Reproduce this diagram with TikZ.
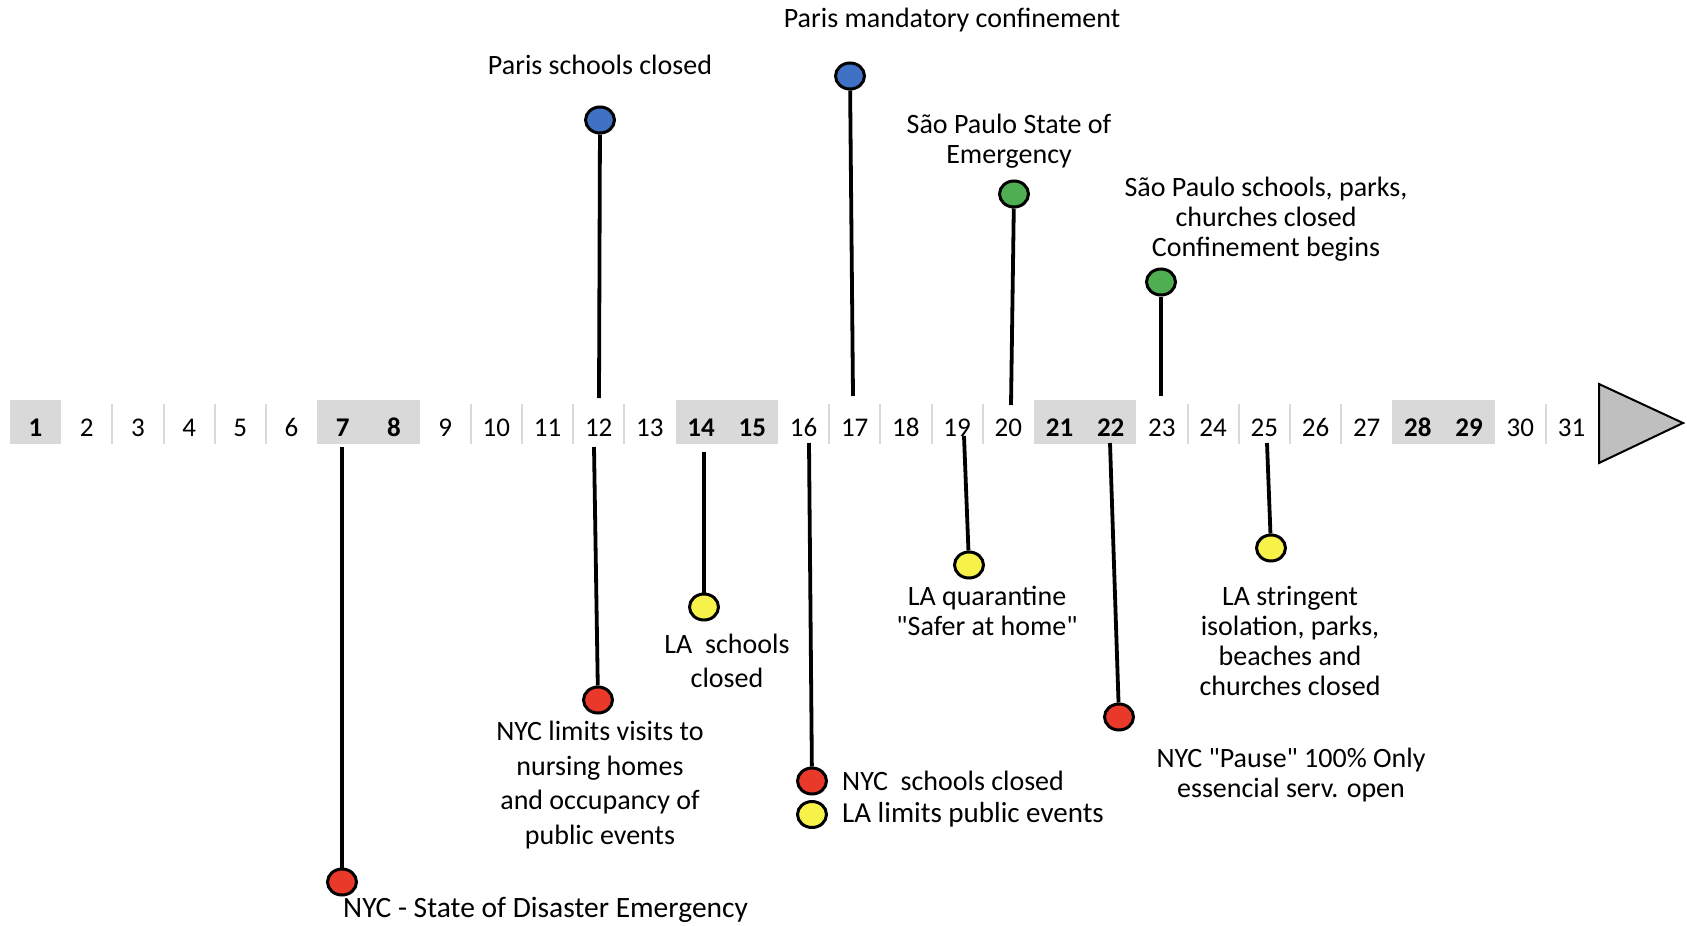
\documentclass[tikz,border=0pt]{standalone}
\usepackage{fontspec}
\newfontfamily\calfont{Carlito}
\usetikzlibrary{shapes.geometric,positioning}
\definecolor{parisblue}{HTML}{3F72C4}
\definecolor{spgreen}{HTML}{4FAE52}
\definecolor{nycred}{HTML}{E8392B}
\definecolor{layellow}{HTML}{F7F24A}
\definecolor{weekgray}{HTML}{D9D9D9}
\definecolor{tipgray}{HTML}{BFBFBF}
\tikzset{
  evtnode/.style = {ellipse, draw=black, line width=3pt, minimum width=29pt, minimum height=26pt, inner sep=0pt},
  % one fill per city
  evt_P/.style = {evtnode, fill=parisblue},
  evt_S/.style = {evtnode, fill=spgreen},
  evt_N/.style = {evtnode, fill=nycred},
  evt_L/.style = {evtnode, fill=layellow},
  label_E/.style = {align=center, inner sep=0pt, font={\calfont\fontsize{28}{30}\selectfont}},
  label_W/.style = {label_E, font={\calfont\fontsize{28}{34.4}\selectfont}},
  label_L/.style = {label_E, font={\calfont\fontsize{29.5}{32}\selectfont}},
  day_N/.style = {anchor=base, inner sep=0pt, font={\calfont\fontsize{27}{30}\selectfont}},
  day_B/.style = {day_N, font={\calfont\fontsize{27}{30}\selectfont\bfseries}},
  stem/.style = {line width=3.8pt, black}
}

\begin{document}
\begin{tikzpicture}[x=1pt, y=-1pt]
    \useasboundingbox (0,0) rectangle (1687,926);
    % Timeline - week-ends:
    \foreach \a/\b in {1/1,7/8,14/15,21/22,28/29}
      \fill[weekgray] ({35.5+(\a-1)*51.2-25.6},400) rectangle ({35.5+(\b-1)*51.2+25.6},444);
    % Timeline - separators:
    \foreach \d in {2,3,4,5,9,10,11,12,16,17,18,19,23,24,25,26,30}
      \draw[weekgray, line width=2pt] ({35.5+(\d-1)*51.2+25.6},404) -- ({35.5+(\d-1)*51.2+25.6},444);
    % Timeline - days:
    \foreach \d in {2,3,4,5,6,9,10,11,12,13,16,17,18,19,20,23,24,25,26,27,30,31}
      \node[day_N] (d\d) at ({35.5+(\d-1)*51.2},436) {\d};
    \foreach \d in {1,7,8,14,15,21,22,28,29}
      \node[day_B] (d\d) at ({35.5+(\d-1)*51.2},436) {\d};
    % Timeline - arrow head:
    \draw[fill=tipgray, line width=2pt, line join=miter] (1599,384) -- (1683,423) -- (1599,463) -- cycle;

    % Day 12 - Paris schools closed:
    \node[evt_P] (p12) at (600,120) {};
    \node[label_E] (lp12) at (600,65) {Paris schools closed};
    \coordinate (t12) at (599,398);
    \draw[stem] (p12) -- (t12);
    % Day 17 - Paris mandatory confinement:
    \node[evt_P] (p17) at (850,76) {};
    \node[label_E] (lp17) at (952,20) {Paris mandatory confinement};
    \coordinate (t17) at (853,396);
    \draw[stem] (p17) -- (t17);
    % Day 20 - Sao Paulo state of emergency:
    \node[evt_S] (s20) at (1014,194) {};
    \node[label_E] (ls20) at (1009,141) {São Paulo State of\\Emergency};
    \coordinate (t20) at (1011,405);
    \draw[stem] (s20) -- (t20);
    % Day 23 - Sao Paulo confinement:
    \node[evt_S] (s23) at (1161,282) {};
    \node[label_E] (ls23) at (1266,219.5) {São Paulo schools, parks,\\churches closed\\Confinement begins};
    \coordinate (t23) at (1161,396);
    \draw[stem] (s23) -- (t23);

    % Day 7 - NYC disaster emergency:
    \coordinate (b7) at (342,447);
    \node[evt_N] (n7) at (342,882) {};
    \node[label_L, anchor=base west] (ln7) at (343,917) {NYC - State of Disaster Emergency};
    \draw[stem] (b7) -- (n7);
    % Day 12 - NYC limits visits:
    \coordinate (b12) at (594,447);
    \node[evt_N] (n12) at (598,700) {};
    \node[label_W] (ln12) at (600,785) {NYC limits visits to\\nursing homes\\and occupancy of\\public events};
    \draw[stem] (b12) -- (n12);
    % Day 14 - LA schools closed:
    \coordinate (b14) at (704,452);
    \node[evt_L] (l14) at (704,607) {};
    \node[label_W] (ll14) at (727,661) {LA\ \ schools\\closed};
    \draw[stem] (b14) -- (l14);
    % Day 16 - NYC schools closed, LA limits events:
    \coordinate (b16) at (809,443);
    \node[evt_N] (n16) at (812,781) {};
    \node[evt_L, below=4.5pt of n16] (l16) {};
    \node[label_E, right=14pt of n16] (ln16) {NYC\ \ schools closed};
    \node[label_E, right=14pt of l16, font={\calfont\fontsize{29}{32}\selectfont}] (ll16) {LA limits public events};
    \draw[stem] (b16) -- (n16);
    % Day 19 - LA quarantine:
    \coordinate (b19) at (964,436);
    \node[evt_L] (l19) at (969,565) {};
    \node[label_E] (ll19) at (987,611) {LA quarantine\\"Safer at home"};
    \draw[stem] (b19) -- (l19);
    % Day 22 - NYC pause:
    \coordinate (b22) at (1110,443);
    \node[evt_N] (n22) at (1119,717) {};
    \node[label_E] (ln22) at (1291,775) {NYC "Pause" 100\% Only\\essencial serv. open};
    \draw[stem] (b22) -- (n22);
    % Day 25 - LA stringent isolation:
    \coordinate (b25) at (1267,443);
    \node[evt_L] (l25) at (1271,548) {};
    \node[label_E] (ll25) at (1290,641) {LA stringent\\isolation, parks,\\beaches and\\churches closed};
    \draw[stem] (b25) -- (l25);
\end{tikzpicture}
\end{document}
